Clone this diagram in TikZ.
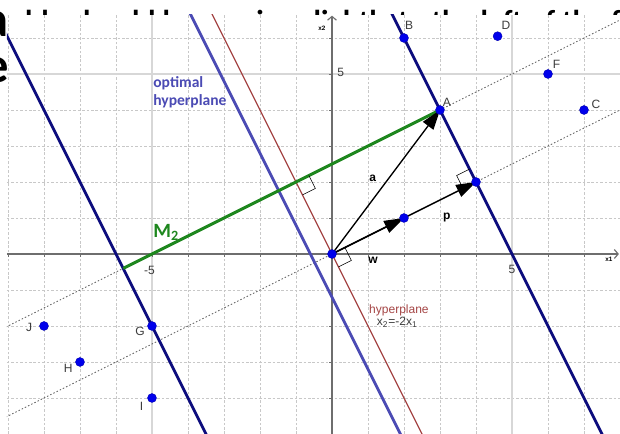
\documentclass[tikz,border=0pt]{standalone}
\usepackage{fontspec}
\setmainfont{Liberation Sans}
\newfontfamily\calib{Carlito}
\usetikzlibrary{arrows.meta}
\definecolor{gridc}{RGB}{200,200,200}
\definecolor{majc}{RGB}{215,215,215}
\definecolor{axisc}{RGB}{110,110,110}
\definecolor{navyc}{RGB}{12,12,125}
\definecolor{optc}{RGB}{75,75,180}
\definecolor{redc}{RGB}{165,70,70}
\definecolor{greenc}{RGB}{30,135,30}
\definecolor{ptc}{RGB}{0,0,235}
\definecolor{labc}{RGB}{60,60,60}
\definecolor{dotc}{RGB}{90,90,90}
\tikzset{
  minorgrid/.style={gridc, line width=0.5pt, dash pattern=on 2pt off 1.5pt},
  majorgrid/.style={majc, line width=0.9pt},
  axisline/.style={axisc, line width=0.9pt},
  dotline/.style={dotc, line width=0.6pt, dash pattern=on 1.2pt off 1.6pt},
  margin/.style={navyc, line width=2.2pt},
  optline/.style={optc, line width=2.2pt},
  hypline/.style={redc, line width=0.9pt},
  mline/.style={greenc, line width=2.4pt},
  vec/.style={black, line width=1.1pt, -{Triangle[length=0.55cm,width=0.36cm]}},
  rmark/.style={black, line width=0.5pt},
  pt/.style={circle, fill=ptc, draw=ptc!75!black, line width=0.3pt, inner sep=0pt, minimum size=0.25cm},
  lab/.style={text=labc, font=\fontsize{9.5}{11}\selectfont, inner sep=0pt},
  vlab/.style={text=black, font=\bfseries\fontsize{9.5}{11}\selectfont, inner sep=0pt},
  ticklab/.style={text=labc, font=\fontsize{9.5}{11}\selectfont, inner sep=0pt},
}
\begin{document}
\begin{tikzpicture}[x=1cm,y=1cm]
\useasboundingbox (-9.2222,-5) rectangle (8,7.0556);
% slide text behind the graph
\begin{scope}
\clip (-9.2222,-5) rectangle (8,7.0556);
\node[anchor=base west, inner sep=0pt, font=\calib\bfseries\fontsize{24}{28}\selectfont] (toptext) at (-8.95,6.19) {able should be moving slightly to the left of the f};
\node[anchor=base east, inner sep=0pt, font=\calib\bfseries\fontsize{40}{44}\selectfont] (lefta) at (-8.97,6.03) {a};
\node[anchor=base east, inner sep=0pt, font=\calib\bfseries\fontsize{40}{44}\selectfont] (lefte) at (-8.97,4.75) {e};
\end{scope}
% graph area
\fill[white] (-9.03,-5) rectangle (8,6.64);
\begin{scope}
\clip (-9.03,-5) rectangle (8,6.64);
% grid
\foreach \i in {-9,...,7} {
  \ifnum\i=0\else\ifnum\i=5\else\ifnum\i=-5\else
  \draw[minorgrid] (\i,-5) -- (\i,6.64);
  \fi\fi\fi
}
\foreach \j in {-4,...,6} {
  \ifnum\j=0\else\ifnum\j=5\else
  \draw[minorgrid] (-9.03,\j) -- (8,\j);
  \fi\fi
}
\draw[majorgrid] (-5,-5) -- (-5,6.64);
\draw[majorgrid] (5,-5) -- (5,6.64);
\draw[majorgrid] (-9.03,5) -- (8,5);
% axes
\coordinate (xl) at (-9.03,0);
\coordinate (xr) at (7.97,0);
\coordinate (yb) at (0,-5);
\coordinate (yt) at (0,6.62);
\draw[axisline, -{Straight Barb[length=3pt,width=7pt]}] (xl) -- (xr);
\draw[axisline, -{Straight Barb[length=3pt,width=7pt]}] (yb) -- (yt);
\foreach \i in {-9,...,7} { \draw[axisc, line width=0.5pt] (\i,0) -- (\i,-0.07); }
\foreach \j in {-4,...,6} { \draw[axisc, line width=0.5pt] (0,\j) -- (-0.07,\j); }
% named coordinates
\coordinate (O) at (0,0);
\coordinate (A) at (3,4);
\coordinate (W) at (2,1);
\coordinate (P) at (4,2);
\coordinate (B) at (2,6);
\coordinate (C) at (7,4);
\coordinate (D) at (4.6,6.05);
\coordinate (F) at (6,5);
\coordinate (G) at (-5,-2);
\coordinate (H) at (-7,-3);
\coordinate (I) at (-5,-4);
\coordinate (J) at (-8,-2);
\coordinate (Mend) at (-5.8,-0.4);
\coordinate (X) at (-1,2);
% dotted lines
\coordinate (ud1) at (-9.5,-2.25);
\coordinate (ud2) at (8.5,6.75);
\coordinate (ld1) at (-9.5,-4.75);
\coordinate (ld2) at (8.5,4.25);
\draw[dotline] (ud1) -- (ud2);
\draw[dotline] (ld1) -- (ld2);
% hyperplanes
\coordinate (r1) at (-3.4,6.8);
\coordinate (r2) at (2.6,-5.2);
\coordinate (o1) at (-4,6.8);
\coordinate (o2) at (2,-5.2);
\coordinate (m1) at (1.6,6.8);
\coordinate (m2) at (7.6,-5.2);
\coordinate (n1) at (-9.5,7);
\coordinate (n2) at (-3.4,-5.2);
\draw[hypline] (r1) -- (r2);
\draw[optline] (o1) -- (o2);
\draw[margin] (m1) -- (m2);
\draw[margin] (n1) -- (n2);
% margin segment
\draw[mline] (Mend) -- (A);
% vectors
\draw[vec] (O) -- (A);
\draw[vec] (O) -- (P);
\draw[vec] (O) -- (W);
% right angle marks
\draw[rmark] ([shift={(-0.179,0.358)}]P) -- ++(-0.358,-0.179) -- ++(0.179,-0.358);
\draw[rmark] ([shift={(0.179,-0.358)}]O) -- ++(0.358,0.179) -- ++(-0.179,0.358);
\draw[rmark] ([shift={(0.179,-0.358)}]X) -- ++(0.358,0.179) -- ++(-0.179,0.358);
% points
\foreach \p in {A,B,C,D,F,G,H,I,J,O,W,P} { \node[pt] (\p dot) at (\p) {}; }
\end{scope}
% point labels
\node[lab] (Alab) at (3.19,4.22) {A};
\node[lab] (Blab) at (2.14,6.36) {B};
\node[lab] (Dlab) at (4.83,6.36) {D};
\node[lab] (Flab) at (6.24,5.28) {F};
\node[lab] (Clab) at (7.33,4.17) {C};
\node[lab] (Glab) at (-5.33,-2.16) {G};
\node[lab] (Jlab) at (-8.41,-2.04) {J};
\node[lab] (Hlab) at (-7.33,-3.18) {H};
\node[lab] (Ilab) at (-5.29,-4.24) {I};
% vector labels
\node[vlab] (alab) at (1.13,2.10) {a};
\node[vlab] (plab) at (3.19,1.0) {p};
\node[vlab] (wlab) at (1.14,-0.17) {w};
% tick labels
\node[ticklab] (t5x) at (5.0,-0.44) {5};
\node[ticklab] (tm5x) at (-5.07,-0.45) {-5};
\node[ticklab] (t5y) at (0.24,5.04) {5};
\node[text=black, font=\bfseries\fontsize{5}{6}\selectfont, inner sep=0pt] (x2lab) at (-0.28,6.26) {x2};
\node[text=black, font=\bfseries\fontsize{5}{6}\selectfont, inner sep=0pt] (x1lab) at (7.69,-0.15) {x1};
% text labels
\node[anchor=west, align=left, text=optc, inner sep=0pt, font=\calib\bfseries\fontsize{12.3}{14.6}\selectfont] (optlab) at (-4.97,4.5) {optimal\\hyperplane};
\node[anchor=west, text=greenc, inner sep=0pt, font=\calib\bfseries\fontsize{16}{18}\selectfont] (M2lab) at (-4.97,0.6) {M\textsubscript{2}};
\node[text=redc, inner sep=0pt, font=\fontsize{9.5}{11}\selectfont] (hyplab) at (1.86,-1.57) {hyperplane};
\node[text=labc, inner sep=0pt, font=\fontsize{9.5}{11}\selectfont] (eqlab) at (1.81,-1.90) {x\textsubscript{2}=-2x\textsubscript{1}};
\end{tikzpicture}
\end{document}
